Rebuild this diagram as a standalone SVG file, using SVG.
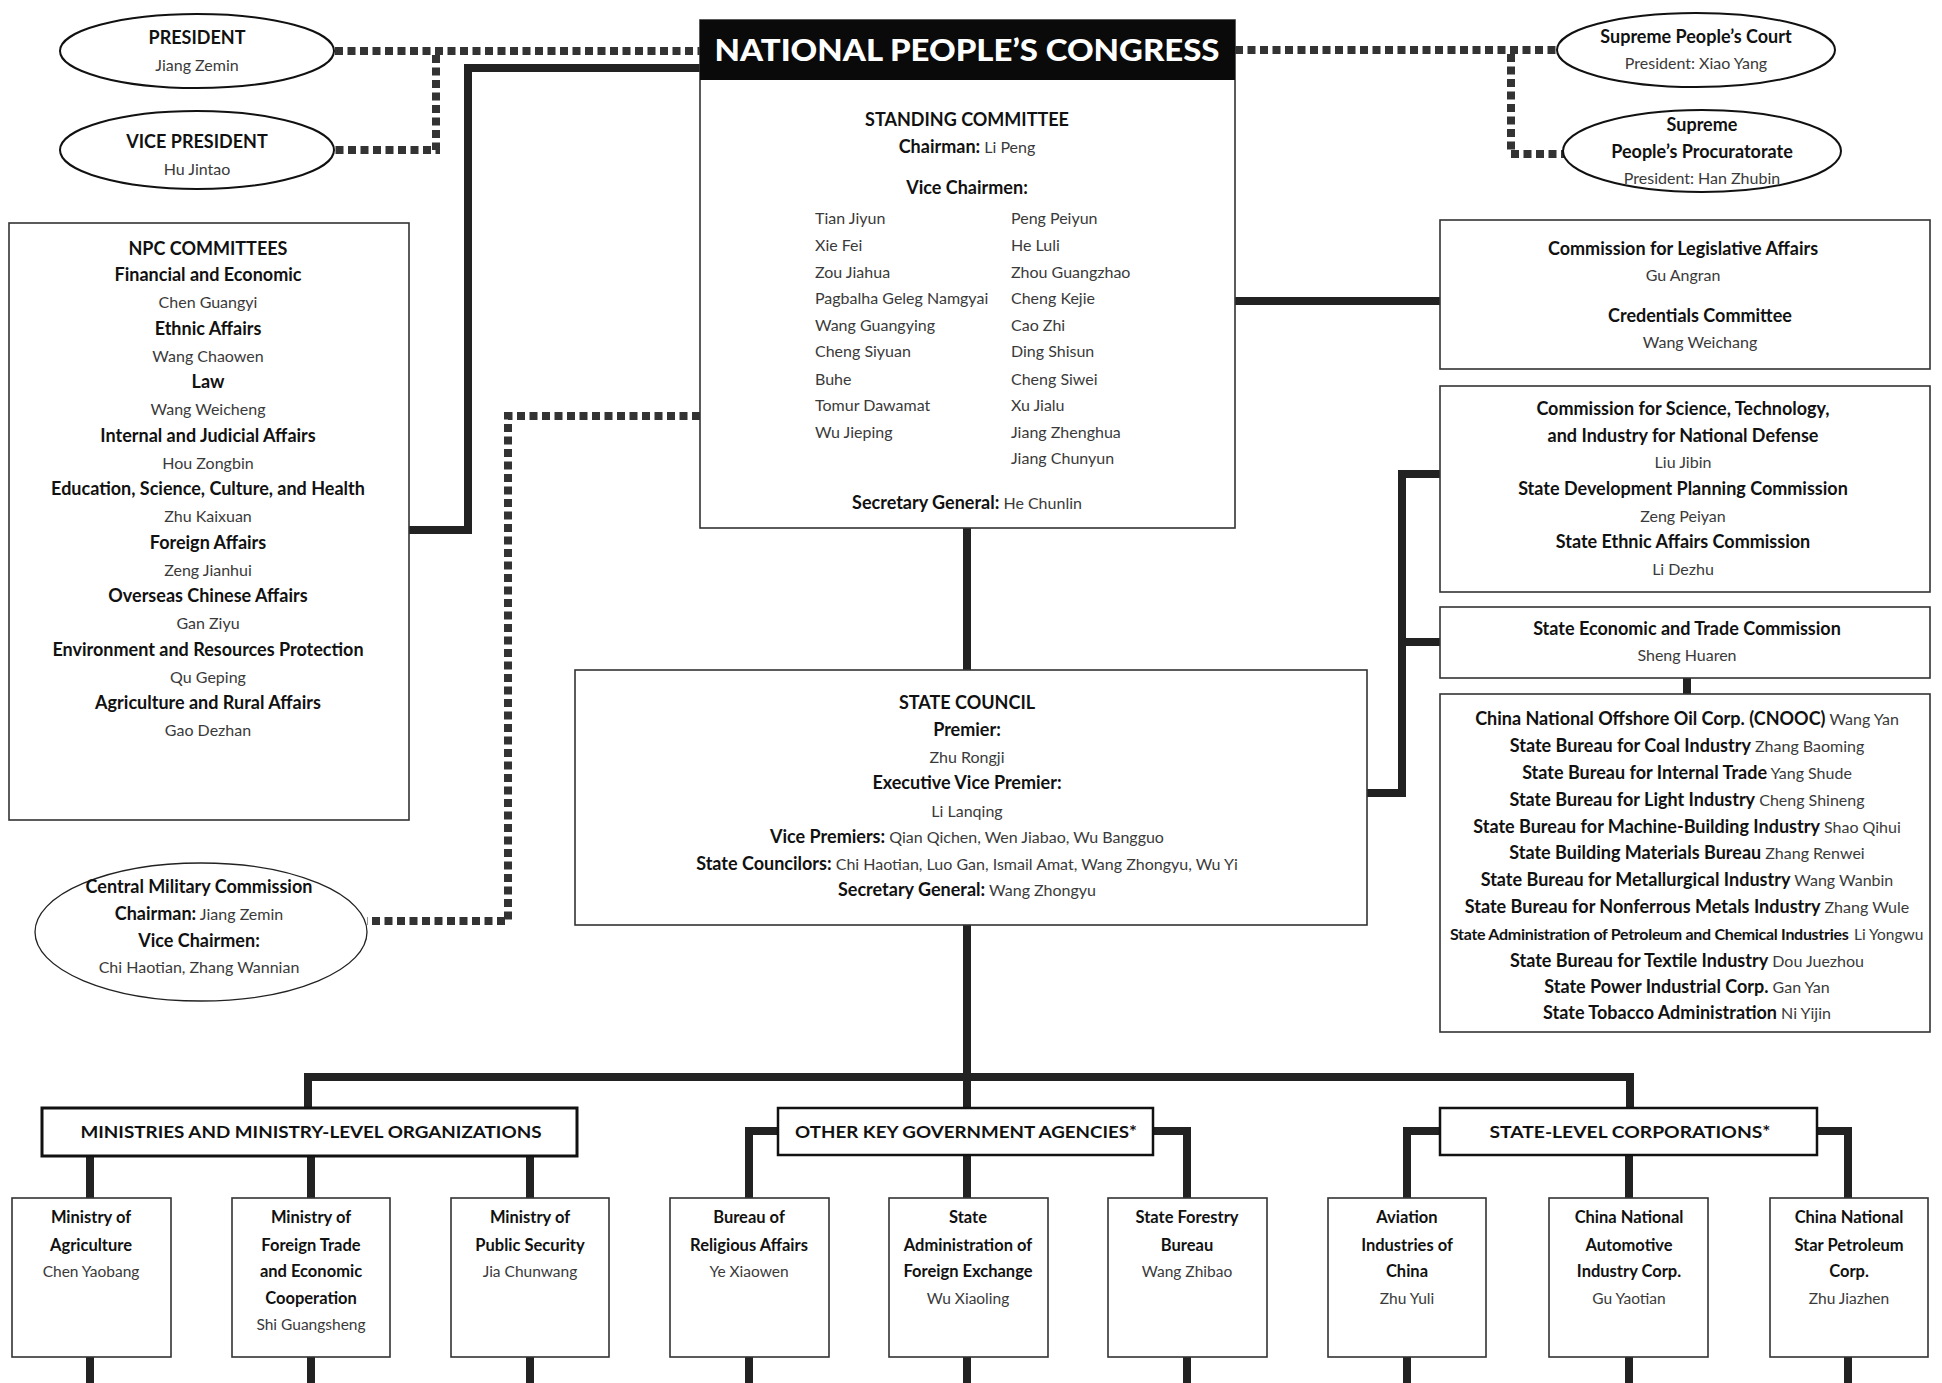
<svg xmlns="http://www.w3.org/2000/svg" width="1942" height="1383" viewBox="0 0 1942 1383">
<style>
text{font-family:Lato,"Open Sans","Liberation Sans",sans-serif;text-anchor:middle}
.b{font-weight:700;font-size:18px;fill:#111}
.n{font-weight:400;font-size:16px;fill:#3a3a3a}
.sb{font-weight:700;font-size:16.5px;fill:#111}
.sn{font-weight:400;font-size:15.5px;fill:#3a3a3a}
.h{font-weight:700;font-size:17px;fill:#111}
.box{fill:#fff;stroke:#333;stroke-width:1.6}
.hbox{fill:#fff;stroke:#111;stroke-width:3}
.ell{fill:#fff;stroke:#111;stroke-width:2}
.s{fill:none;stroke:#222;stroke-width:8;stroke-linejoin:miter}
.d{fill:none;stroke:#333;stroke-width:8;stroke-dasharray:8 4.5}
</style>
<rect width="1942" height="1383" fill="#fff"/>

<g id="connectors">
<path class="s" d="M700,68 H468 V530 H409"/>
<path class="s" d="M1235,301 H1440"/>
<path class="s" d="M967,528 V670"/>
<path class="s" d="M1367,793 H1402 V474 H1440 M1402,642 H1440"/>
<path class="s" d="M1687,678 V694"/>
<path class="s" d="M967,925 V1108"/>
<path class="s" d="M308,1108 V1077 H1630 V1108"/>
<path class="s" d="M90,1156 V1198 M311,1156 V1198 M530,1156 V1198"/>
<path class="s" d="M778,1131 H749 V1198 M967,1156 V1198 M1153,1131 H1187 V1198"/>
<path class="s" d="M1440,1131 H1407 V1198 M1629,1156 V1198 M1817,1131 H1848 V1198"/>
<path class="s" d="M90,1357 V1383 M311,1357 V1383 M530,1357 V1383 M749,1357 V1383 M967,1357 V1383 M1187,1357 V1383 M1407,1357 V1383 M1629,1357 V1383 M1848,1357 V1383"/>
<path class="d" d="M335,51 H700"/>
<path class="d" d="M436,55 V150 H334"/>
<path class="d" d="M700,416 H508 V921 H367"/>
<path class="d" d="M1235,50 H1557"/>
<path class="d" d="M1511,54 V154 H1565"/>
</g>

<g id="president">
<ellipse class="ell" cx="197" cy="51" rx="137" ry="37"/>
<text class="b" x="197" y="44">PRESIDENT</text>
<text class="n" x="197" y="71">Jiang Zemin</text>
</g>
<g id="vice-president">
<ellipse class="ell" cx="197" cy="150" rx="137" ry="39"/>
<text class="b" x="197" y="148">VICE PRESIDENT</text>
<text class="n" x="197" y="175">Hu Jintao</text>
</g>

<g id="npc">
<rect class="box" x="700" y="20" width="535" height="508"/>
<rect x="700" y="20" width="535" height="60" fill="#0a0a0a"/>
<text x="967" y="61" style="font-weight:900;font-size:30px;fill:#fff" textLength="505" lengthAdjust="spacingAndGlyphs">NATIONAL PEOPLE’S CONGRESS</text>
<text class="b" x="967" y="126">STANDING COMMITTEE</text>
<text x="967" y="153"><tspan class="b">Chairman:</tspan><tspan class="n"> Li Peng</tspan></text>
<text class="b" x="967" y="194">Vice Chairmen:</text>
<g class="n">
<text x="815" y="224" style="text-anchor:start">Tian Jiyun</text>
<text x="815" y="251" style="text-anchor:start">Xie Fei</text>
<text x="815" y="278" style="text-anchor:start">Zou Jiahua</text>
<text x="815" y="304" style="text-anchor:start">Pagbalha Geleg Namgyai</text>
<text x="815" y="331" style="text-anchor:start">Wang Guangying</text>
<text x="815" y="357" style="text-anchor:start">Cheng Siyuan</text>
<text x="815" y="385" style="text-anchor:start">Buhe</text>
<text x="815" y="411" style="text-anchor:start">Tomur Dawamat</text>
<text x="815" y="438" style="text-anchor:start">Wu Jieping</text>
<text x="1011" y="224" style="text-anchor:start">Peng Peiyun</text>
<text x="1011" y="251" style="text-anchor:start">He Luli</text>
<text x="1011" y="278" style="text-anchor:start">Zhou Guangzhao</text>
<text x="1011" y="304" style="text-anchor:start">Cheng Kejie</text>
<text x="1011" y="331" style="text-anchor:start">Cao Zhi</text>
<text x="1011" y="357" style="text-anchor:start">Ding Shisun</text>
<text x="1011" y="385" style="text-anchor:start">Cheng Siwei</text>
<text x="1011" y="411" style="text-anchor:start">Xu Jialu</text>
<text x="1011" y="438" style="text-anchor:start">Jiang Zhenghua</text>
<text x="1011" y="464" style="text-anchor:start">Jiang Chunyun</text>
</g>
<text x="967" y="509"><tspan class="b">Secretary General:</tspan><tspan class="n"> He Chunlin</tspan></text>
</g>

<g id="supreme-court">
<ellipse class="ell" cx="1696" cy="50" rx="139" ry="37"/>
<text class="b" x="1696" y="43">Supreme People’s Court</text>
<text class="n" x="1696" y="69">President: Xiao Yang</text>
</g>
<g id="procuratorate">
<ellipse class="ell" cx="1702" cy="151" rx="139" ry="41"/>
<text class="b" x="1702" y="131">Supreme</text>
<text class="b" x="1702" y="158">People’s Procuratorate</text>
<text class="n" x="1702" y="184">President: Han Zhubin</text>
</g>

<g id="npc-committees">
<rect class="box" x="9" y="223" width="400" height="597"/>
<text class="b" x="208" y="255">NPC COMMITTEES</text>
<text class="b" x="208" y="281">Financial and Economic</text>
<text class="n" x="208" y="308">Chen Guangyi</text>
<text class="b" x="208" y="335">Ethnic Affairs</text>
<text class="n" x="208" y="362">Wang Chaowen</text>
<text class="b" x="208" y="388">Law</text>
<text class="n" x="208" y="415">Wang Weicheng</text>
<text class="b" x="208" y="442">Internal and Judicial Affairs</text>
<text class="n" x="208" y="469">Hou Zongbin</text>
<text class="b" x="208" y="495">Education, Science, Culture, and Health</text>
<text class="n" x="208" y="522">Zhu Kaixuan</text>
<text class="b" x="208" y="549">Foreign Affairs</text>
<text class="n" x="208" y="576">Zeng Jianhui</text>
<text class="b" x="208" y="602">Overseas Chinese Affairs</text>
<text class="n" x="208" y="629">Gan Ziyu</text>
<text class="b" x="208" y="656">Environment and Resources Protection</text>
<text class="n" x="208" y="683">Qu Geping</text>
<text class="b" x="208" y="709">Agriculture and Rural Affairs</text>
<text class="n" x="208" y="736">Gao Dezhan</text>
</g>

<g id="cmc">
<ellipse cx="201" cy="932" rx="166" ry="69" fill="#fff" stroke="#222" stroke-width="1.3"/>
<text class="b" x="199" y="893">Central Military Commission</text>
<text x="199" y="920"><tspan class="b">Chairman:</tspan><tspan class="n"> Jiang Zemin</tspan></text>
<text class="b" x="199" y="947">Vice Chairmen:</text>
<text class="n" x="199" y="973">Chi Haotian, Zhang Wannian</text>
</g>

<g id="legislative">
<rect class="box" x="1440" y="220" width="490" height="149"/>
<text class="b" x="1683" y="255">Commission for Legislative Affairs</text>
<text class="n" x="1683" y="281">Gu Angran</text>
<text class="b" x="1700" y="322">Credentials Committee</text>
<text class="n" x="1700" y="348">Wang Weichang</text>
</g>

<g id="commissions">
<rect class="box" x="1440" y="386" width="490" height="206"/>
<text class="b" x="1683" y="415">Commission for Science, Technology,</text>
<text class="b" x="1683" y="442">and Industry for National Defense</text>
<text class="n" x="1683" y="468">Liu Jibin</text>
<text class="b" x="1683" y="495">State Development Planning Commission</text>
<text class="n" x="1683" y="522">Zeng Peiyan</text>
<text class="b" x="1683" y="548">State Ethnic Affairs Commission</text>
<text class="n" x="1683" y="575">Li Dezhu</text>
</g>

<g id="economic-trade">
<rect class="box" x="1440" y="607" width="490" height="71"/>
<text class="b" x="1687" y="635">State Economic and Trade Commission</text>
<text class="n" x="1687" y="661">Sheng Huaren</text>
</g>

<g id="bureaus">
<rect class="box" x="1440" y="694" width="490" height="338"/>
<text x="1687" y="725"><tspan class="b">China National Offshore Oil Corp. (CNOOC)</tspan><tspan class="n"> Wang Yan</tspan></text>
<text x="1687" y="752"><tspan class="b">State Bureau for Coal Industry</tspan><tspan class="n"> Zhang Baoming</tspan></text>
<text x="1687" y="779"><tspan class="b">State Bureau for Internal Trade</tspan><tspan class="n"> Yang Shude</tspan></text>
<text x="1687" y="806"><tspan class="b">State Bureau for Light Industry</tspan><tspan class="n"> Cheng Shineng</tspan></text>
<text x="1687" y="833"><tspan class="b">State Bureau for Machine-Building Industry</tspan><tspan class="n"> Shao Qihui</tspan></text>
<text x="1687" y="859"><tspan class="b">State Building Materials Bureau</tspan><tspan class="n"> Zhang Renwei</tspan></text>
<text x="1687" y="886"><tspan class="b">State Bureau for Metallurgical Industry</tspan><tspan class="n"> Wang Wanbin</tspan></text>
<text x="1687" y="913"><tspan class="b">State Bureau for Nonferrous Metals Industry</tspan><tspan class="n"> Zhang Wule</tspan></text>
<text x="1450" y="940" style="text-anchor:start;font-weight:700;font-size:16px;fill:#111;letter-spacing:-0.3px">State Administration of Petroleum and Chemical Industries</text>
<text x="1854" y="940" style="text-anchor:start;font-weight:400;font-size:15.5px;fill:#3a3a3a">Li Yongwu</text>
<text x="1687" y="967"><tspan class="b">State Bureau for Textile Industry</tspan><tspan class="n"> Dou Juezhou</tspan></text>
<text x="1687" y="993"><tspan class="b">State Power Industrial Corp.</tspan><tspan class="n"> Gan Yan</tspan></text>
<text x="1687" y="1019"><tspan class="b">State Tobacco Administration</tspan><tspan class="n"> Ni Yijin</tspan></text>
</g>

<g id="state-council">
<rect class="box" x="575" y="670" width="792" height="255"/>
<text class="b" x="967" y="709">STATE COUNCIL</text>
<text class="b" x="967" y="736">Premier:</text>
<text class="n" x="967" y="763">Zhu Rongji</text>
<text class="b" x="967" y="789">Executive Vice Premier:</text>
<text class="n" x="967" y="817">Li Lanqing</text>
<text x="967" y="843"><tspan class="b">Vice Premiers:</tspan><tspan class="n"> Qian Qichen, Wen Jiabao, Wu Bangguo</tspan></text>
<text x="967" y="870"><tspan class="b">State Councilors:</tspan><tspan class="n"> Chi Haotian, Luo Gan, Ismail Amat, Wang Zhongyu, Wu Yi</tspan></text>
<text x="967" y="896"><tspan class="b">Secretary General:</tspan><tspan class="n"> Wang Zhongyu</tspan></text>
</g>

<g id="ministries">
<rect class="hbox" x="42" y="1108" width="535" height="48"/>
<text class="h" x="311" y="1138" textLength="461" lengthAdjust="spacingAndGlyphs">MINISTRIES AND MINISTRY-LEVEL ORGANIZATIONS</text>
</g>
<g id="other-agencies">
<rect class="hbox" x="778" y="1108" width="375" height="47" style="stroke-width:2.5"/>
<text class="h" x="966" y="1138" textLength="342" lengthAdjust="spacingAndGlyphs">OTHER KEY GOVERNMENT AGENCIES*</text>
</g>
<g id="state-corporations">
<rect class="hbox" x="1440" y="1108" width="377" height="47" style="stroke-width:2.5"/>
<text class="h" x="1630" y="1138" textLength="281" lengthAdjust="spacingAndGlyphs">STATE-LEVEL CORPORATIONS*</text>
</g>

<g id="min-agriculture">
<rect class="box" x="12" y="1198" width="159" height="159"/>
<text class="sb" x="91" y="1223">Ministry of</text>
<text class="sb" x="91" y="1251">Agriculture</text>
<text class="sn" x="91" y="1277">Chen Yaobang</text>
</g>
<g id="min-foreign-trade">
<rect class="box" x="232" y="1198" width="158" height="159"/>
<text class="sb" x="311" y="1223">Ministry of</text>
<text class="sb" x="311" y="1251">Foreign Trade</text>
<text class="sb" x="311" y="1277">and Economic</text>
<text class="sb" x="311" y="1304">Cooperation</text>
<text class="sn" x="311" y="1330">Shi Guangsheng</text>
</g>
<g id="min-public-security">
<rect class="box" x="451" y="1198" width="158" height="159"/>
<text class="sb" x="530" y="1223">Ministry of</text>
<text class="sb" x="530" y="1251">Public Security</text>
<text class="sn" x="530" y="1277">Jia Chunwang</text>
</g>
<g id="religious-affairs">
<rect class="box" x="670" y="1198" width="159" height="159"/>
<text class="sb" x="749" y="1223">Bureau of</text>
<text class="sb" x="749" y="1251">Religious Affairs</text>
<text class="sn" x="749" y="1277">Ye Xiaowen</text>
</g>
<g id="foreign-exchange">
<rect class="box" x="889" y="1198" width="159" height="159"/>
<text class="sb" x="968" y="1223">State</text>
<text class="sb" x="968" y="1251">Administration of</text>
<text class="sb" x="968" y="1277">Foreign Exchange</text>
<text class="sn" x="968" y="1304">Wu Xiaoling</text>
</g>
<g id="forestry">
<rect class="box" x="1108" y="1198" width="159" height="159"/>
<text class="sb" x="1187" y="1223">State Forestry</text>
<text class="sb" x="1187" y="1251">Bureau</text>
<text class="sn" x="1187" y="1277">Wang Zhibao</text>
</g>
<g id="aviation">
<rect class="box" x="1328" y="1198" width="158" height="159"/>
<text class="sb" x="1407" y="1223">Aviation</text>
<text class="sb" x="1407" y="1251">Industries of</text>
<text class="sb" x="1407" y="1277">China</text>
<text class="sn" x="1407" y="1304">Zhu Yuli</text>
</g>
<g id="automotive">
<rect class="box" x="1549" y="1198" width="159" height="159"/>
<text class="sb" x="1629" y="1223">China National</text>
<text class="sb" x="1629" y="1251">Automotive</text>
<text class="sb" x="1629" y="1277">Industry Corp.</text>
<text class="sn" x="1629" y="1304">Gu Yaotian</text>
</g>
<g id="star-petroleum">
<rect class="box" x="1770" y="1198" width="158" height="159"/>
<text class="sb" x="1849" y="1223">China National</text>
<text class="sb" x="1849" y="1251">Star Petroleum</text>
<text class="sb" x="1849" y="1277">Corp.</text>
<text class="sn" x="1849" y="1304">Zhu Jiazhen</text>
</g>
</svg>
